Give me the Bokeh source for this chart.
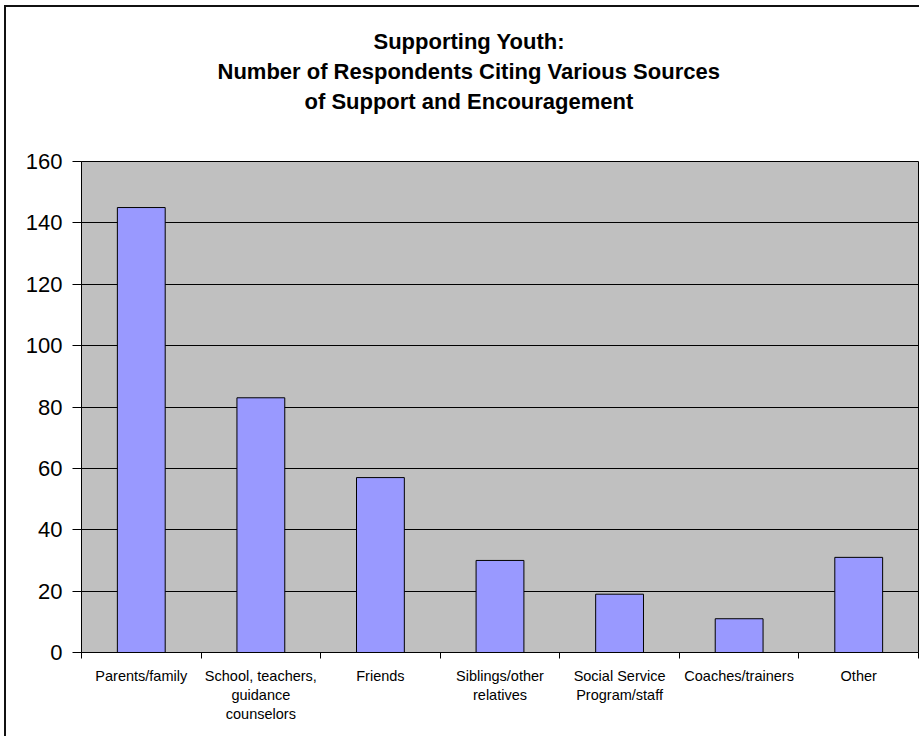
from bokeh.plotting import figure
from bokeh.models import Range1d, FixedTicker, Title, InlineStyleSheet
from bokeh.embed import file_html
from bokeh.resources import INLINE

# ---- data ----
categories = [
    "Parents/family",
    "School, teachers,\nguidance\ncounselors",
    "Friends",
    "Siblings/other\nrelatives",
    "Social Service\nProgram/staff",
    "Coaches/trainers",
    "Other",
]
counts = [145, 83, 57, 30, 19, 11, 31]
y_ticks = [0, 20, 40, 60, 80, 100, 120, 140, 160]
title_lines = [
    "Supporting Youth:",
    "Number of Respondents Citing Various Sources",
    "of Support and Encouragement",
]

FONT = "Liberation Sans"

n = len(categories)
centers = [i + 0.5 for i in range(n)]
edges = list(range(n + 1))

p = figure(width=919, height=736,
           x_range=Range1d(0, n), y_range=Range1d(0, 160),
           output_backend="svg", toolbar_location=None,
           min_border_left=81, min_border_right=1,
           min_border_top=161, min_border_bottom=84,
           title=title_lines[0])

p.background_fill_color = "#C0C0C0"
p.border_fill_color = "white"
p.outline_line_color = "black"

# outer chart border (left/top visible)
p.stylesheets = [InlineStyleSheet(css=(
    ":host::after { content: ''; position: absolute; left: 4px; top: 5px; "
    "right: 0; bottom: 0; border-left: 2px solid #111; border-top: 2px solid #111; "
    "pointer-events: none; }"))]

# titles: p.title is outermost; added ones stack outward from the frame
title_kw = dict(text_font=FONT, text_font_size="22px", text_font_style="bold",
                text_color="black", align="left")
p.title.text_font = FONT
p.title.text_font_size = "22px"
p.title.text_font_style = "bold"
p.title.text_color = "black"
p.title.align = "left"
p.title.offset = 292
p.title.standoff = 4
# blank spacer between the title block and the plot area
p.add_layout(Title(text=" ", standoff=20, **title_kw), "above")
p.add_layout(Title(text=title_lines[2], offset=223, standoff=2, **title_kw), "above")
p.add_layout(Title(text=title_lines[1], offset=136, standoff=3, **title_kw), "above")

# bars
p.vbar(x=centers, top=counts, width=0.4, bottom=0,
       fill_color="#9999FF", line_color="black", line_width=1)

# y axis
ya = p.yaxis[0]
ya.ticker = FixedTicker(ticks=y_ticks)
ya.major_tick_out = 9
ya.major_tick_in = 0
ya.minor_tick_out = 0
ya.minor_tick_in = 0
ya.axis_line_color = "black"
ya.major_tick_line_color = "black"
ya.major_label_text_font = FONT
ya.major_label_text_font_size = "22px"
ya.major_label_text_color = "black"
ya.major_label_standoff = 10

p.ygrid.ticker = FixedTicker(ticks=y_ticks)
p.ygrid.grid_line_color = "black"
p.ygrid.grid_line_width = 1
p.xgrid.visible = False

# x axis: labels at centers, tick marks at category boundaries
xa = p.xaxis[0]
xa.ticker = FixedTicker(ticks=centers, minor_ticks=edges)
xa.major_label_overrides = {c: lab for c, lab in zip(centers, categories)}
xa.major_tick_out = 0
xa.major_tick_in = 0
xa.minor_tick_out = 6
xa.minor_tick_in = 0
xa.minor_tick_line_color = "black"
xa.axis_line_color = "black"
xa.major_label_text_font = FONT
xa.major_label_text_font_size = "14.5px"
xa.major_label_text_color = "black"
xa.major_label_standoff = 9

open("out.html", "w").write(file_html(p, INLINE))
